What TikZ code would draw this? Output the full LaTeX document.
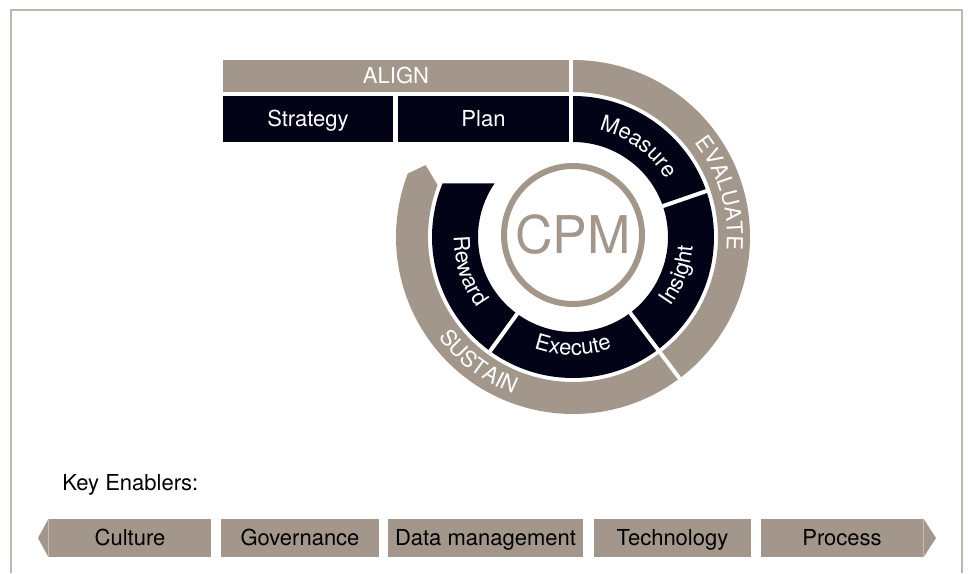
\documentclass[tikz,border=0pt]{standalone}
\usepackage{fontspec}
\setmainfont{TeX Gyre Heros}
\usetikzlibrary{decorations.text}
\definecolor{cpmtaupe}{RGB}{163,151,139}
\definecolor{cpmdark}{RGB}{3,3,24}
\definecolor{framegray}{RGB}{190,183,176}
\begin{document}
\begin{tikzpicture}[x=0.5pt,y=0.5pt,
  boxfont/.style={font=\fontsize{11}{13}\selectfont,text height=7.9pt,text depth=0pt,inner sep=0pt},
  darkbox/.style={boxfont,fill=cpmdark,text=white,minimum height=23pt},
  enabler/.style={boxfont,fill=cpmtaupe,text=black,minimum height=19pt},
  ringtext/.style={decorate,decoration={text along path,text align=center,text color=white,
    text={|\fontsize{11}{13}\selectfont|#1}}}]
\useasboundingbox (-573,-336) rectangle (395,237);
\draw[framegray,line width=1pt] (-562,-336) -- (-562,227) -- (389,227) -- (389,-336);
\node (align) [boxfont,fill=cpmtaupe,text=white,minimum width=173pt,minimum height=16pt] at (-177,161) {ALIGN};
\node (strategy) [darkbox,minimum width=85pt] at (-265,118) {Strategy};
\node (plan) [darkbox,minimum width=85.5pt] at (-89.5,118) {Plan};
\fill[cpmtaupe] (90:177) arc[start angle=90,end angle=-53,radius=177] -- (-53:145)
  arc[start angle=-53,end angle=90,radius=145] -- cycle;
\fill[cpmtaupe] (-53:177) arc[start angle=-53,end angle=-201,radius=177] -- (-206:164)
  -- (-201:145) arc[start angle=-201,end angle=-53,radius=145] -- cycle;
\fill[cpmdark] (90:141) arc[start angle=90,end angle=-202.4,radius=141] -- (-214.4:95)
  arc[start angle=-214.4,end angle=90,radius=95] -- cycle;
\draw[white,line width=2pt] (19:93) -- (19:143);
\draw[white,line width=2pt] (-53:93) -- (-53:179);
\draw[white,line width=2pt] (-126:93) -- (-126:143);
\path[ringtext=Measure] (84:110) arc[start angle=84,end angle=24,radius=110];
\path[ringtext=Insight] (-50:120) arc[start angle=-50,end angle=10,radius=120];
\path[ringtext=Execute] (-125:118) arc[start angle=-125,end angle=-55,radius=118];
\path[ringtext=Reward] (165:119) arc[start angle=165,end angle=231,radius=119];
\path[ringtext=EVALUATE] (46:154) arc[start angle=46,end angle=-13,radius=154];
\path[ringtext=SUSTAIN] (205:168) arc[start angle=205,end angle=261,radius=168];
\node (cpm) [circle,draw=cpmtaupe,line width=3pt,minimum size=69pt,inner sep=0pt,text=cpmtaupe,
  font=\fontsize{26}{28}\selectfont] at (0,2) {CPM};
\node (key) [anchor=west,inner sep=0pt,font=\fontsize{11}{13}\selectfont] at (-511,-248) {Key Enablers:};
\node (culture) [enabler,minimum width=81pt] at (-443,-301) {Culture};
\node (governance) [enabler,minimum width=79pt] at (-273,-301) {Governance};
\node (data) [enabler,minimum width=97.5pt] at (-87.5,-301) {Data management};
\node (technology) [enabler,minimum width=78.5pt] at (99.5,-301) {Technology};
\node (process) [enabler,minimum width=81pt] at (269,-301) {Process};
\fill[cpmtaupe] (culture.north west) -- (-535,-301) -- (culture.south west) -- cycle;
\fill[cpmtaupe] (process.north east) -- (363,-301) -- (process.south east) -- cycle;
\end{tikzpicture}
\end{document}
